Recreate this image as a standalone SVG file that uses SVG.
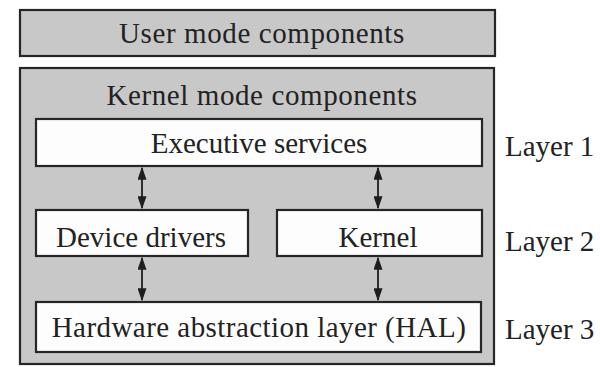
<svg xmlns="http://www.w3.org/2000/svg" width="600" height="367" viewBox="0 0 600 367">
<defs>
<marker id="ah" viewBox="0 0 10 10" refX="9" refY="5" markerWidth="13" markerHeight="9" markerUnits="userSpaceOnUse" orient="auto-start-reverse" preserveAspectRatio="none">
<path d="M0,0 L10,5 L0,10 z" fill="#1e1e1e"/>
</marker>
<style>
.gray{fill:#c8c8c8;stroke:#262626;stroke-width:2.2}
.white{fill:#fdfdfd;stroke:#262626;stroke-width:2.2}
text{font-family:"Liberation Serif","Times New Roman",serif;font-size:29px;fill:#222;text-anchor:middle}
.lbl{text-anchor:start}
.wide{letter-spacing:0.6px}
.conn{stroke:#1e1e1e;stroke-width:1.8;fill:none;marker-start:url(#ah);marker-end:url(#ah)}
</style>
</defs>
<rect width="600" height="367" fill="#ffffff"/>
<g id="user-mode">
<rect class="gray" x="20" y="10" width="475" height="46"/>
<text class="wide" x="262" y="43">User mode components</text>
</g>
<g id="kernel-mode">
<rect class="gray" x="20" y="68" width="474" height="296"/>
<text class="wide" x="262" y="105">Kernel mode components</text>
</g>
<g id="executive-services">
<rect class="white" x="36" y="119" width="446" height="47"/>
<text x="259" y="153">Executive services</text>
</g>
<g id="device-drivers">
<rect class="white" x="36" y="210" width="212" height="46"/>
<text x="141" y="247">Device drivers</text>
</g>
<g id="kernel">
<rect class="white" x="277" y="210" width="205" height="46"/>
<text x="378" y="247">Kernel</text>
</g>
<g id="hal">
<rect class="white" x="36" y="302" width="445" height="50"/>
<text class="wide" x="259" y="337" style="letter-spacing:0.45px">Hardware abstraction layer (HAL)</text>
</g>
<g id="layer-labels">
<text class="lbl" x="505" y="156">Layer 1</text>
<text class="lbl" x="505" y="251">Layer 2</text>
<text class="lbl" x="505" y="339">Layer 3</text>
</g>
<g id="connectors">
<line class="conn" x1="142" y1="168" x2="142" y2="208"/>
<line class="conn" x1="378" y1="168" x2="378" y2="208"/>
<line class="conn" x1="142" y1="258" x2="142" y2="300"/>
<line class="conn" x1="378" y1="258" x2="378" y2="300"/>
</g>
</svg>
